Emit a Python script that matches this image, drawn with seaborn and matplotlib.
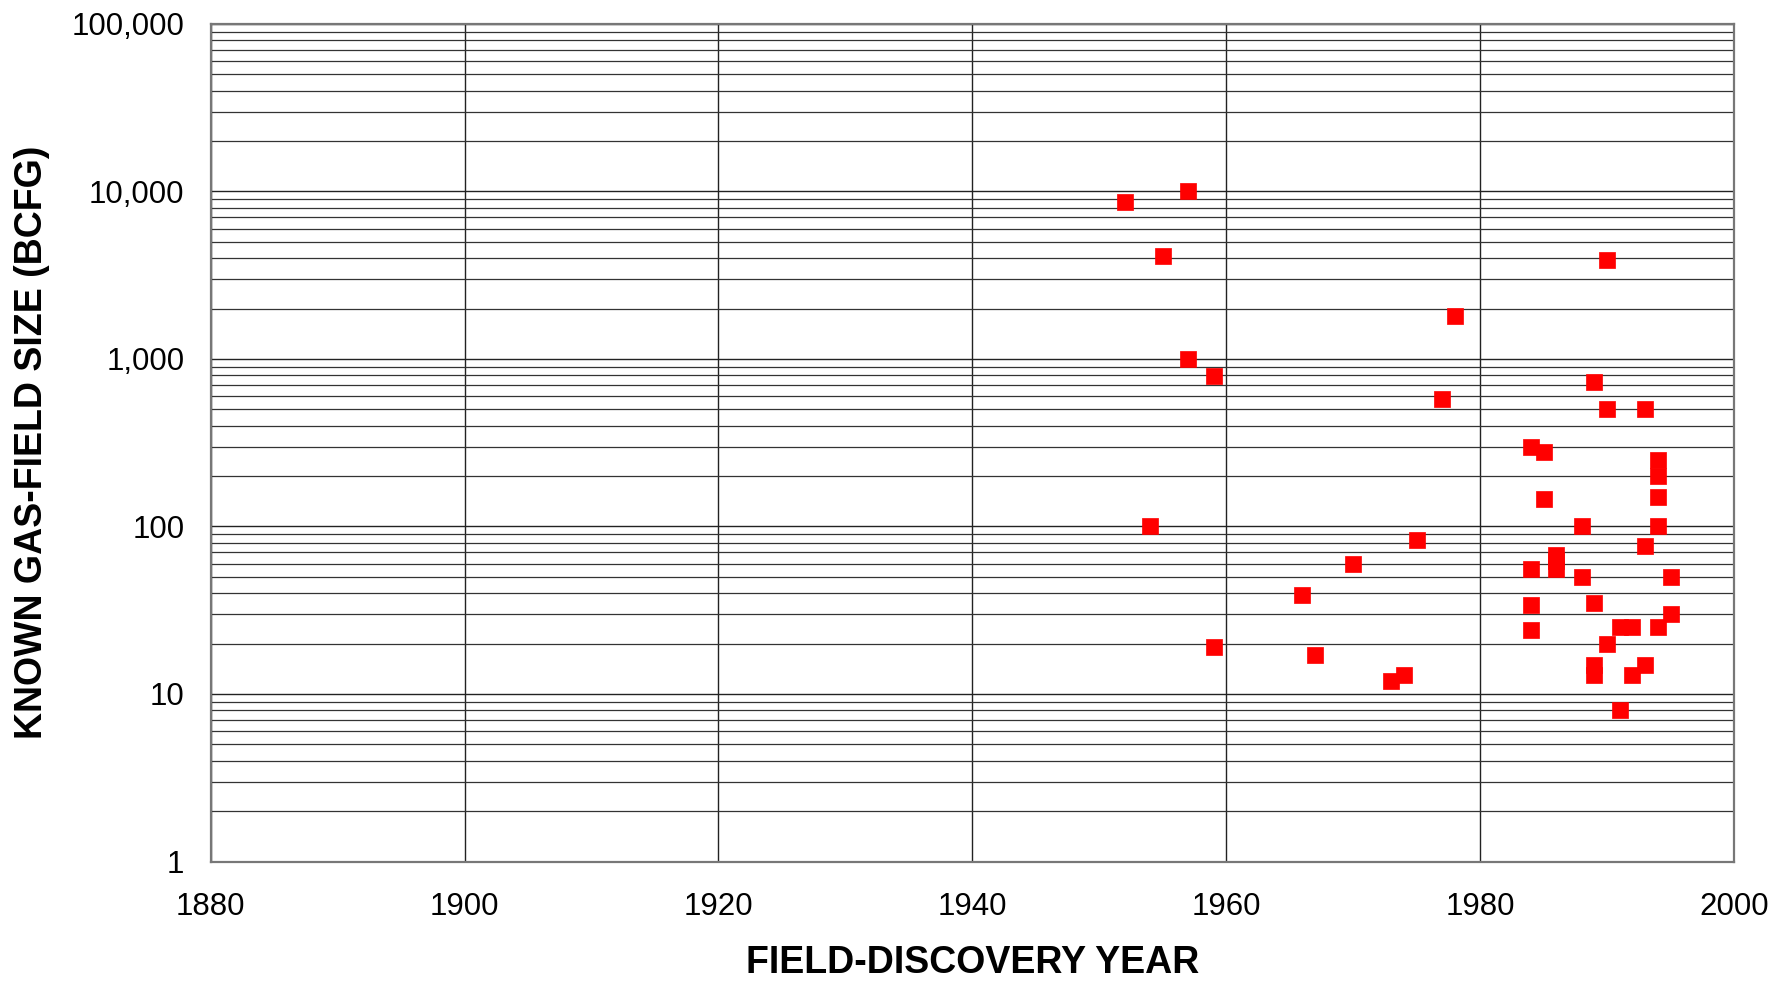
import numpy as np
import pandas as pd
import seaborn as sns
import matplotlib.pyplot as plt
from matplotlib.ticker import LogLocator, FuncFormatter, NullFormatter

# discovery year / known size (BCFG)
years = [1952, 1954, 1955, 1957, 1957, 1959, 1959, 1966, 1967, 1970,
         1973, 1974, 1975, 1977, 1978,
         1984, 1984, 1984, 1984, 1985, 1985, 1986, 1986, 1986,
         1988, 1988, 1989, 1989, 1989, 1989, 1990, 1990, 1990,
         1991, 1991, 1992, 1992, 1993, 1993, 1993,
         1994, 1994, 1994, 1994, 1994, 1995, 1995]
sizes = [8700, 100, 4100, 10000, 1000, 790, 19, 39, 17, 60,
         12, 13, 83, 580, 1800,
         300, 56, 34, 24, 280, 146, 68, 62, 56,
         100, 50, 730, 35, 15, 13, 3900, 500, 20,
         25, 8, 25, 13, 500, 76, 15,
         250, 200, 150, 100, 25, 50, 30]
x_ticks = [1880, 1900, 1920, 1940, 1960, 1980, 2000]

data = pd.DataFrame({"year": years, "size": sizes})

sns.set_style("white")
plt.rcParams["font.family"] = ["Liberation Sans", "DejaVu Sans"]

fig = plt.figure(figsize=(17.75, 9.83), dpi=100)
ax = fig.add_axes([0.1187, 0.1236, 0.8582, 0.852])

ax.set_yscale("log")
ax.set_xlim(1880, 2000)
ax.set_ylim(1, 100000)

ax.yaxis.set_major_locator(LogLocator(base=10))
ax.yaxis.set_minor_locator(LogLocator(base=10, subs=np.arange(2, 10)))
ax.yaxis.set_major_formatter(FuncFormatter(lambda v, p: f"{v:,.0f}"))
ax.yaxis.set_minor_formatter(NullFormatter())
ax.set_xticks(x_ticks)

ax.grid(True, which="major", axis="both", color="#222222", lw=1.0)
ax.grid(True, which="minor", axis="y", color="#333333", lw=0.9)
ax.set_axisbelow(True)

sns.scatterplot(data=data, x="year", y="size", marker="s", s=125,
                color="#FF0000", edgecolor="#FF0000", linewidth=0.5,
                ax=ax, zorder=3, legend=False)

for side in ["top", "right", "left", "bottom"]:
    ax.spines[side].set_color("#777777")
    ax.spines[side].set_linewidth(1.6)

ax.tick_params(axis="both", which="major", direction="out", length=7,
               width=1, color="#222222", labelsize=22.5, labelcolor="black")
ax.tick_params(axis="y", which="major", pad=12)
ax.tick_params(axis="x", which="major", pad=15)
ax.tick_params(axis="y", which="minor", length=0)

ax.set_xlabel("FIELD-DISCOVERY YEAR", fontsize=27, fontweight="bold",
              color="black", va="center")
ax.set_ylabel("KNOWN GAS-FIELD SIZE (BCFG)", fontsize=27, fontweight="bold",
              color="black", va="center")
ax.xaxis.set_label_coords(0.5, -0.121)
ax.yaxis.set_label_coords(-0.1173, 0.5)

fig.savefig("out.png", dpi=100)
